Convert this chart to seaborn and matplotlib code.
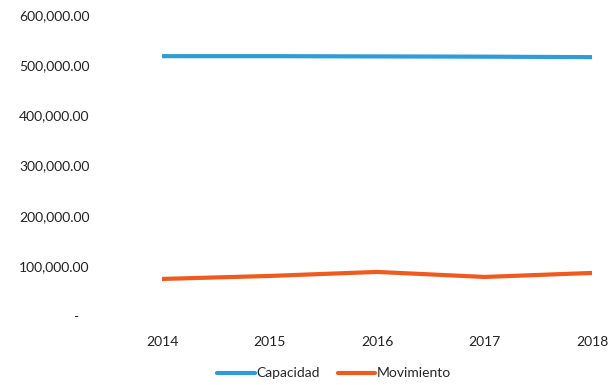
import pandas as pd
import seaborn as sns
import matplotlib.pyplot as plt
from matplotlib.ticker import FixedLocator

# datos
years = [2014, 2015, 2016, 2017, 2018]
capacidad = [518000, 518000, 517500, 517000, 516000]
movimiento = [74000, 80000, 88000, 78000, 86000]
y_ticks = [0, 100000, 200000, 300000, 400000, 500000, 600000]

df = pd.DataFrame({
    "year": years * 2,
    "valor": capacidad + movimiento,
    "serie": ["Capacidad"] * len(years) + ["Movimiento"] * len(years),
})

sns.set_style("white")
plt.rcParams["font.family"] = ["Lato", "DejaVu Sans"]

fig = plt.figure(figsize=(6.1, 3.85), dpi=100)
ax = fig.add_axes([0.2656, 0.179, 0.705, 0.782])

sns.lineplot(data=df, x="year", y="valor", hue="serie",
             palette={"Capacidad": "#2E9BDA", "Movimiento": "#F05A1E"},
             linewidth=3.0, ax=ax, legend=False)

ax.set_xlim(years[0], years[-1])
ax.set_ylim(0, 600000)
ax.set_xticks(years)
ax.set_xticklabels([str(y) for y in years])
ax.yaxis.set_major_locator(FixedLocator(y_ticks))
ax.set_yticklabels(["-   "] + [f"{v:,.2f}" for v in y_ticks[1:]])
ax.tick_params(axis="y", length=0, pad=52, labelsize=10, colors="#222222")
ax.tick_params(axis="x", length=0, pad=14, labelsize=10, colors="#222222")
ax.set_xlabel("")
ax.set_ylabel("")
for s in ax.spines.values():
    s.set_visible(False)

handles = [plt.Line2D([], [], color="#2E9BDA", linewidth=3.0),
           plt.Line2D([], [], color="#F05A1E", linewidth=3.0)]
fig.legend(handles, ["Capacidad", "Movimiento"], loc="center",
           bbox_to_anchor=(0.548, 0.03), ncol=2, frameon=False,
           handlelength=2.7, handletextpad=0.1, columnspacing=1.3,
           fontsize=10)

fig.savefig("out.png", dpi=100)
